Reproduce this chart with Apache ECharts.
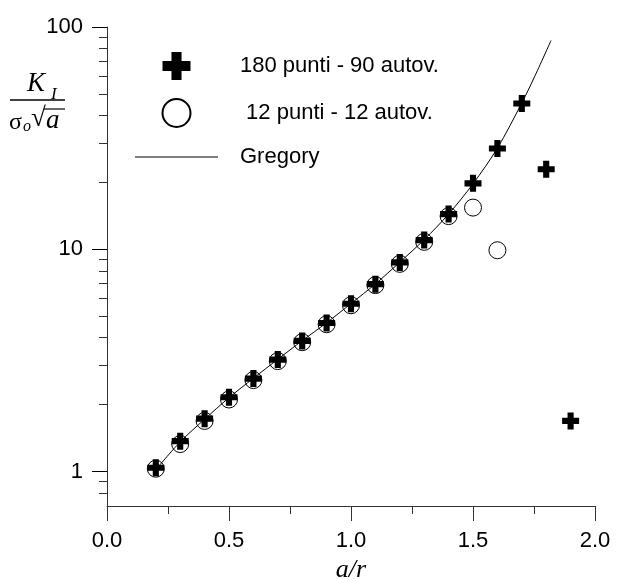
<!DOCTYPE html>
<html>
<head>
<meta charset="utf-8">
<script src="https://cdn.jsdelivr.net/npm/echarts@6/dist/echarts.min.js"></script>
<style>
  html, body { margin: 0; padding: 0; background: #fff; }
  #chart { width: 619px; height: 580px; }
</style>
</head>
<body>
<div id="chart"></div>
<script>
// 180 punti - 90 autovalori
const plusX = [0.2, 0.3, 0.4, 0.5, 0.6, 0.7, 0.8, 0.9, 1.0, 1.1, 1.2, 1.3, 1.4, 1.5, 1.6, 1.7, 1.8, 1.9];
const plusY = [1.04, 1.37, 1.73, 2.16, 2.62, 3.19, 3.87, 4.66, 5.69, 6.97, 8.73, 11.0, 14.4, 19.8, 28.4, 45.3, 22.9, 1.69];
// 12 punti - 12 autovalori
const circX = [0.2, 0.3, 0.4, 0.5, 0.6, 0.7, 0.8, 0.9, 1.0, 1.1, 1.2, 1.3, 1.4, 1.5, 1.6];
const circY = [1.03, 1.33, 1.69, 2.11, 2.58, 3.14, 3.82, 4.6, 5.6, 6.9, 8.6, 10.8, 14.1, 15.4, 9.9];
// Gregory
const gregX = [0.2, 0.3, 0.4, 0.5, 0.6, 0.7, 0.8, 0.9, 1.0, 1.1, 1.2, 1.3, 1.4, 1.5, 1.6, 1.7, 1.75, 1.82];
const gregY = [1.02, 1.36, 1.72, 2.15, 2.63, 3.2, 3.88, 4.67, 5.7, 6.98, 8.75, 11.05, 14.4, 19.7, 28.5, 45.5, 59, 87];

const yMajor = [1, 10, 100];
const yMinor = [0.8, 0.9, 2, 3, 4, 5, 6, 7, 8, 9, 20, 30, 40, 50, 60, 70, 80, 90];
const xTicks = [0, 0.5, 1.0, 1.5, 2.0];

const names = ['180 punti - 90 autov.', ' 12 punti - 12 autov.', 'Gregory'];
const plusPath = 'path://M3.2,0H6.8V3.2H10V6.8H6.8V10H3.2V6.8H0V3.2H3.2Z';
const linePath = 'path://M0,0H83V1H0Z';

const zip = (xs, ys) => xs.map((x, i) => [x, ys[i]]);
const axisColor = '#333';

const chart = echarts.init(document.getElementById('chart'));
chart.setOption({
  animation: false,
  backgroundColor: '#fff',
  grid: { left: 107, right: 24, top: 27, bottom: 74, outerBoundsMode: 'none', containLabel: false },
  legend: {
    orient: 'vertical',
    left: 130,
    top: 47,
    itemWidth: 83,
    itemHeight: 28,
    itemGap: 18,
    textStyle: { fontFamily: 'Liberation Sans', fontSize: 22, color: '#000', padding: [0, 0, 0, 17] },
    data: [
      { name: names[0], icon: plusPath },
      { name: names[1], icon: 'circle' },
      { name: names[2], icon: linePath }
    ]
  },
  xAxis: {
    type: 'value',
    min: 0,
    max: 2,
    interval: 0.5,
    name: 'a/r',
    nameLocation: 'middle',
    nameGap: 51,
    nameTextStyle: { fontFamily: 'Liberation Serif', fontStyle: 'italic', fontSize: 26, color: '#000' },
    axisLine: { lineStyle: { color: axisColor, width: 1 } },
    axisTick: { length: 15, lineStyle: { color: axisColor } },
    minorTick: { show: true, splitNumber: 2, length: 8, lineStyle: { color: axisColor } },
    splitLine: { show: false },
    minorSplitLine: { show: false },
    axisLabel: {
      margin: 24, fontFamily: 'Liberation Sans', fontSize: 22, color: '#000',
      customValues: xTicks,
      formatter: v => v.toFixed(1)
    }
  },
  yAxis: [
    {
      type: 'log',
      logBase: 10,
      min: 0.7,
      max: 100,
      axisLine: { show: true, lineStyle: { color: axisColor, width: 1 } },
      axisTick: { show: true, length: 15, customValues: yMajor, lineStyle: { color: '#000' } },
      axisLabel: {
        margin: 24, fontFamily: 'Liberation Sans', fontSize: 22, color: '#000',
        customValues: yMajor,
        formatter: v => String(Math.round(v))
      },
      splitLine: { show: false }
    },
    {
      type: 'log',
      logBase: 10,
      min: 0.7,
      max: 100,
      position: 'left',
      axisLine: { show: false },
      axisTick: { show: true, length: 8, customValues: yMinor, lineStyle: { color: axisColor } },
      axisLabel: { show: false },
      splitLine: { show: false }
    }
  ],
  graphic: [
    { type: 'text', left: 27, top: 70, style: { text: 'K', font: 'italic 27px "Liberation Serif"', fill: '#000' } },
    { type: 'text', left: 51, top: 86, style: { text: 'I', font: 'italic 17px "Liberation Serif"', fill: '#000' } },
    { type: 'line', shape: { x1: 10, y1: 100, x2: 65, y2: 100 }, style: { stroke: '#000', lineWidth: 1.5 } },
    { type: 'text', left: 9, top: 111, style: { text: 'σ', font: '24px "Liberation Serif"', fill: '#000' } },
    { type: 'text', left: 23, top: 119, style: { text: 'o', font: 'italic 16px "Liberation Serif"', fill: '#000' } },
    { type: 'text', left: 31, top: 105, style: { text: '√', font: '27px "Liberation Serif"', fill: '#000' } },
    { type: 'text', left: 46, top: 107, style: { text: 'a', font: 'italic 27px "Liberation Serif"', fill: '#000' } },
    { type: 'line', shape: { x1: 44, y1: 109, x2: 65, y2: 109 }, style: { stroke: '#000', lineWidth: 1.2 } }
  ],
  series: [
    {
      name: names[1],
      type: 'scatter',
      symbol: 'circle',
      symbolSize: 17,
      itemStyle: { color: 'rgba(255,255,255,0)', borderColor: '#000', borderWidth: 1, opacity: 1 },
      z: 2,
      data: zip(circX, circY)
    },
    {
      name: names[2],
      type: 'line',
      showSymbol: false,
      symbol: 'none',
      smooth: 0.3,
      lineStyle: { color: '#000', width: 1 },
      itemStyle: { color: '#000' },
      z: 3,
      data: zip(gregX, gregY)
    },
    {
      name: names[0],
      type: 'scatter',
      symbol: plusPath,
      symbolSize: 17,
      itemStyle: { color: '#000', opacity: 1 },
      z: 4,
      data: zip(plusX, plusY)
    }
  ]
});
</script>
</body>
</html>
